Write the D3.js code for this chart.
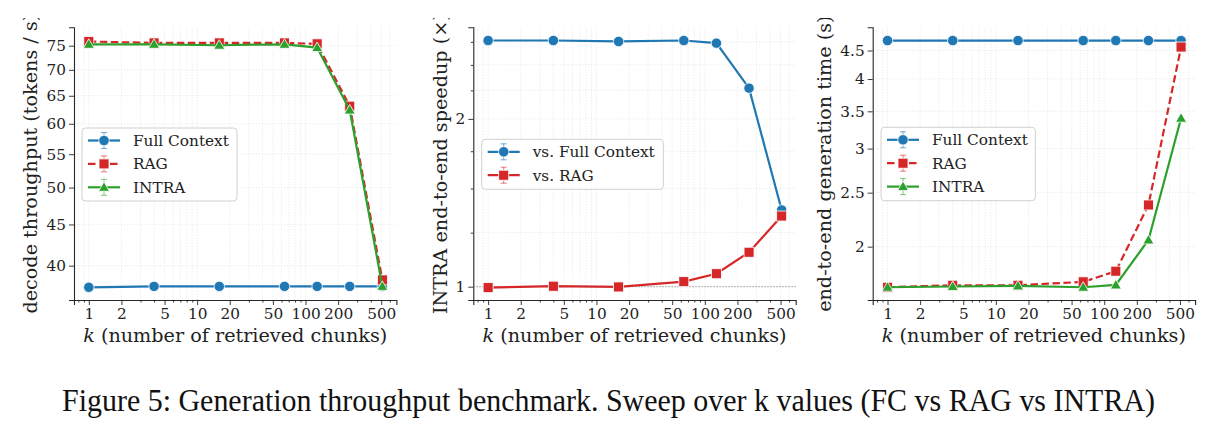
<!DOCTYPE html>
<html>
<head>
<meta charset="utf-8">
<script src="https://cdn.jsdelivr.net/npm/d3@7"></script>
<style>
  body { margin: 0; background: #fff; }
  svg { display: block; font-family: "DejaVu Serif", serif; }
</style>
</head>
<body>
<svg id="chart" width="1216" height="430"></svg>
<script>
// k values swept
const kValues = [1, 4, 16, 64, 128, 256, 512];
const xTicks = [1, 2, 5, 10, 20, 50, 100, 200, 500];

// decode throughput (tokens / s)
const throughputFC = [37.6, 37.7, 37.7, 37.7, 37.7, 37.7, 37.7];
const throughputRAG = [75.9, 75.6, 75.6, 75.6, 75.4, 63.1, 38.4];
const throughputINTRA = [75.3, 75.3, 75.1, 75.3, 74.6, 62.4, 37.7];
const throughputTicks = [40, 45, 50, 55, 60, 65, 70, 75];

// INTRA end-to-end speedup
const speedupFC = [2.765, 2.765, 2.754, 2.765, 2.735, 2.271, 1.373];
const speedupRAG = [0.996, 1.002, 0.999, 1.021, 1.055, 1.153, 1.339];
const speedupTicks = [1, 2];
const speedupMinorTicks = [1.25, 1.5, 1.75, 2.25, 2.5, 2.75];

// end-to-end generation time (s)
const timeFC = [4.69, 4.69, 4.69, 4.69, 4.69, 4.69, 4.69];
const timeRAG = [1.691, 1.705, 1.705, 1.729, 1.807, 2.376, 4.566];
const timeINTRA = [1.691, 1.696, 1.70, 1.691, 1.707, 2.056, 3.402];
const timeTicks = [2, 2.5, 3, 3.5, 4, 4.5];

const blue = "#1f77b4", red = "#d62728", green = "#2ca02c";

const svg = d3.select("#chart");

svg.append("defs").append("clipPath").attr("id", "topclip")
  .append("rect").attr("x", 0).attr("y", 18).attr("width", 1216).attr("height", 412);

const panels = [
  {
    left: 74, ylabel: "decode throughput (tokens / s)", ylabelX: 32,
    yDomain: [36.26, 79.05], yTicks: throughputTicks, yMinor: [],
    series: [
      { name: "Full Context", values: throughputFC, color: blue, marker: "circle" },
      { name: "RAG", values: throughputRAG, color: red, marker: "square", dash: "7.5,3.5" },
      { name: "INTRA", values: throughputINTRA, color: green, marker: "triangle" }
    ],
    legend: { x: 82, y: 128, w: 155, h: 73 }
  },
  {
    left: 473.3, ylabel: "INTRA end-to-end speedup (×)", ylabelX: 442,
    yDomain: [0.9465, 2.92], yTicks: speedupTicks, yMinor: speedupMinorTicks,
    refLine: 1,
    series: [
      { name: "vs. Full Context", values: speedupFC, color: blue, marker: "circle" },
      { name: "vs. RAG", values: speedupRAG, color: red, marker: "square" }
    ],
    legend: { x: 481.7, y: 139.3, w: 181.6, h: 50 }
  },
  {
    left: 872.7, ylabel: "end-to-end generation time (s)", ylabelX: 826,
    yDomain: [1.604, 4.954], yTicks: timeTicks, yMinor: [],
    series: [
      { name: "Full Context", values: timeFC, color: blue, marker: "circle" },
      { name: "RAG", values: timeRAG, color: red, marker: "square", dash: "7.5,3.5" },
      { name: "INTRA", values: timeINTRA, color: green, marker: "triangle" }
    ],
    legend: { x: 881, y: 127.3, w: 154.3, h: 73.4 }
  }
];

const plotW = 322.4, plotTop = 27.3, plotBottom = 300;

function drawMarker(g, type, cx, cy, color) {
  if (type === "circle") {
    g.append("circle").attr("cx", cx).attr("cy", cy).attr("r", 5.2)
      .attr("fill", color).attr("stroke", "#fff").attr("stroke-width", 0.8);
  } else if (type === "square") {
    g.append("rect").attr("x", cx - 5).attr("y", cy - 5).attr("width", 10).attr("height", 10)
      .attr("fill", color).attr("stroke", "#fff").attr("stroke-width", 0.8);
  } else {
    const s = d3.symbol().type(d3.symbolTriangle).size(52);
    g.append("path").attr("d", s()).attr("transform", `translate(${cx},${cy + 0.8})`)
      .attr("fill", color).attr("stroke", "#fff").attr("stroke-width", 0.8);
  }
}

panels.forEach(p => {
  const x = d3.scaleLog().domain([0.73, 690]).range([p.left, p.left + plotW]);
  const y = d3.scaleLog().domain(p.yDomain).range([plotBottom, plotTop]);
  const g = svg.append("g");

  // grid (major + minor)
  const minorX = x.ticks().filter(v => v >= 0.73 && v <= 690);
  g.selectAll(".gx").data(minorX).enter().append("line")
    .attr("x1", d => x(d)).attr("x2", d => x(d)).attr("y1", plotTop).attr("y2", plotBottom)
    .attr("stroke", "#e6e6e6").attr("stroke-width", 0.8).attr("stroke-dasharray", "1.2,1.6");
  g.selectAll(".gy").data(p.yTicks.concat(p.yMinor)).enter().append("line")
    .attr("x1", p.left).attr("x2", p.left + plotW).attr("y1", d => y(d)).attr("y2", d => y(d))
    .attr("stroke", "#e6e6e6").attr("stroke-width", 0.8).attr("stroke-dasharray", "1.2,1.6");

  if (p.refLine) {
    g.append("line").attr("x1", p.left).attr("x2", p.left + plotW)
      .attr("y1", y(p.refLine)).attr("y2", y(p.refLine))
      .attr("stroke", "#999").attr("stroke-width", 1).attr("stroke-dasharray", "1.5,1.5");
  }

  // axes
  g.append("g").attr("transform", `translate(0,${plotBottom})`)
    .call(d3.axisBottom(x).tickValues(xTicks).tickFormat(d => d).tickSize(5).tickPadding(3.5));
  g.append("g").attr("transform", `translate(0,${plotBottom})`)
    .call(d3.axisBottom(x).tickValues(minorX.filter(v => !xTicks.includes(v))).tickFormat("").tickSize(2.5))
    .call(a => a.select(".domain").remove());
  g.append("g").attr("transform", `translate(${p.left},0)`)
    .call(d3.axisLeft(y).tickValues(p.yTicks).tickFormat(d => d).tickSize(5).tickPadding(3));
  if (p.yMinor.length) {
    g.append("g").attr("transform", `translate(${p.left},0)`)
      .call(d3.axisLeft(y).tickValues(p.yMinor).tickFormat("").tickSize(2.5))
      .call(a => a.select(".domain").remove());
  }
  g.selectAll(".domain").attr("stroke", "#262626").attr("stroke-width", 1.1);
  g.selectAll(".tick line").attr("stroke", "#262626").attr("stroke-width", 0.9);
  g.selectAll(".tick text").attr("font-family", "DejaVu Serif").attr("font-size", 15.3).attr("fill", "#222");

  // axis labels
  const xl = g.append("text").attr("x", p.left + plotW / 2).attr("y", 341.5)
    .attr("text-anchor", "middle").attr("font-size", 19.2).attr("fill", "#222");
  xl.append("tspan").attr("font-style", "italic").text("k");
  xl.append("tspan").text(" (number of retrieved chunks)");

  g.append("g").attr("clip-path", "url(#topclip)")
    .append("text")
    .attr("transform", `translate(${p.ylabelX + 4.5},${(plotTop + plotBottom) / 2}) rotate(-90)`)
    .attr("text-anchor", "middle").attr("font-size", 19.2).attr("fill", "#222")
    .text(p.ylabel);

  // series
  p.series.forEach(s => {
    const line = d3.line().x((d, i) => x(kValues[i])).y(d => y(d));
    g.append("path").datum(s.values).attr("d", line).attr("fill", "none")
      .attr("stroke", s.color).attr("stroke-width", 2.2)
      .attr("stroke-dasharray", s.dash || null);
    s.values.forEach((v, i) => drawMarker(g, s.marker, x(kValues[i]), y(v), s.color));
  });

  // legend
  const L = p.legend;
  const lg = g.append("g");
  lg.append("rect").attr("x", L.x).attr("y", L.y).attr("width", L.w).attr("height", L.h)
    .attr("rx", 3.5).attr("fill", "#fff").attr("fill-opacity", 0.85)
    .attr("stroke", "#d0d0d0").attr("stroke-width", 1);
  p.series.forEach((s, i) => {
    const cy = L.y + 12.5 + i * 23.4;
    const x0 = L.x + 6, x1 = L.x + 38, mx = L.x + 22;
    lg.append("line").attr("x1", mx).attr("x2", mx).attr("y1", cy - 8).attr("y2", cy + 8)
      .attr("stroke", s.color).attr("stroke-opacity", 0.6).attr("stroke-width", 1);
    [cy - 8, cy + 8].forEach(cyc => lg.append("line").attr("x1", mx - 3).attr("x2", mx + 3)
      .attr("y1", cyc).attr("y2", cyc).attr("stroke", s.color).attr("stroke-opacity", 0.6).attr("stroke-width", 1));
    lg.append("line").attr("x1", x0).attr("x2", x1).attr("y1", cy).attr("y2", cy)
      .attr("stroke", s.color).attr("stroke-width", 2.2).attr("stroke-dasharray", s.dash || null);
    drawMarker(lg, s.marker, mx, cy, s.color);
    lg.append("text").attr("x", L.x + 51).attr("y", cy + 5.5)
      .attr("font-size", 15.3).attr("fill", "#222").text(s.name);
  });
});

// caption
svg.append("text").attr("x", 62).attr("y", 411)
  .attr("font-family", "Liberation Serif")
  .attr("font-size", 31).attr("fill", "#111")
  .attr("textLength", 1093).attr("lengthAdjust", "spacingAndGlyphs")
  .text("Figure 5: Generation throughput benchmark. Sweep over k values (FC vs RAG vs INTRA)");
</script>
</body>
</html>
